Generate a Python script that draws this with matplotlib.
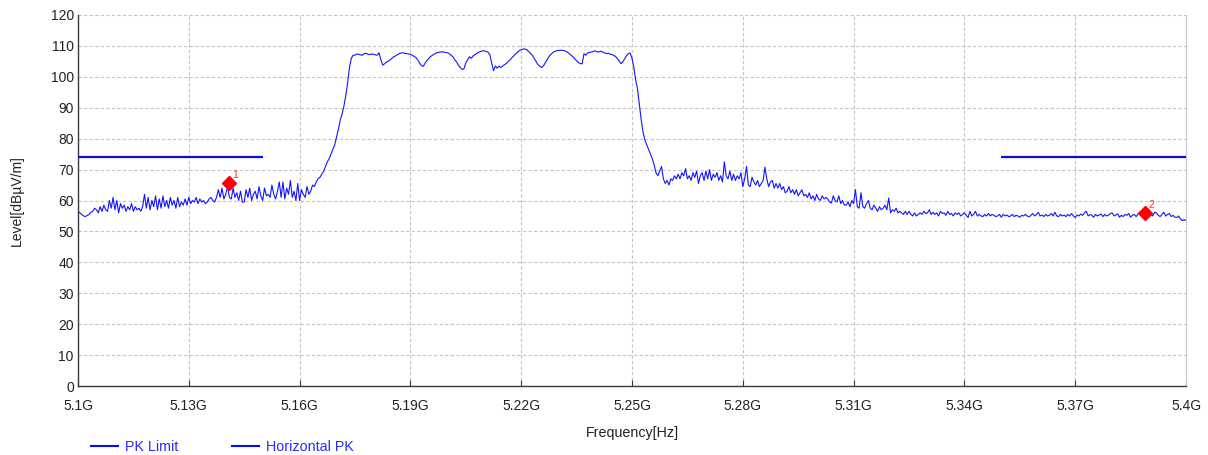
import numpy as np
import matplotlib
matplotlib.use("Agg")
import matplotlib.pyplot as plt
from matplotlib.lines import Line2D

# ---------------- data ----------------
f_start_ghz = 5.100
f_stop_ghz = 5.400
# Horizontal PK trace, one reading every 0.5 MHz from 5100 to 5400 MHz
level_below_band = [
    56.5, 56, 55.5, 55, 54.8, 55.2, 55.5, 56.2, 56.5, 57.5,
    57, 56, 58, 56.5, 58.5, 57, 56.5, 60, 57.5, 61,
    57, 60, 56, 59, 57.5, 58.5, 56.5, 58, 57, 59,
    56.5, 58, 57, 57.5, 56.5, 58, 62, 57.5, 61, 57,
    60, 58, 61.5, 57, 60.5, 57.5, 61.5, 58, 60, 57.5,
    61, 58.5, 60, 57.5, 61, 58, 59.5, 58.5, 60.5, 58.5,
    61, 59, 60, 59.5, 61, 59, 60.5, 59.5, 60, 59,
    59.5, 60.5, 61, 60, 59.5, 61, 63.5, 61, 64, 60.5,
    62, 64.5, 61, 60.5, 64, 61, 62.5, 60, 63, 59.5,
    59.5, 63.5, 61, 64, 60, 62, 63, 60.5, 64.5, 61.5,
    60, 64, 61.5, 62, 61, 65, 62, 60.5, 63, 66,
    61, 66, 60.5, 64, 62, 66.5, 61, 63, 60, 65.5,
    60, 63.5, 62, 61, 64.5, 62, 63, 65, 64.5, 66,
    67, 67.5,
]
level_rise = [
    68.5, 69.5, 71, 72.5, 73.5, 75, 76.5, 78, 80.5, 83,
    86, 88, 90.5, 94, 98, 103, 106, 107,
]
level_in_band = [
    107, 107.4, 107.3, 107.1, 107, 107.5, 107.6, 107.3, 107.2, 107.4,
    107.3, 107.1, 107.0, 107.8, 105.5, 103.8, 104.2, 104.8, 105, 105.5,
    106, 106.5, 106.8, 107.2, 107.5, 107.7, 107.8, 107.6, 107.5, 107.4,
    107.3, 107, 106.6, 106.2, 105.5, 104.5, 103.6, 103.4, 104.5, 105.3,
    106, 106.6, 107, 107.4, 107.7, 107.9, 108, 108.1, 108, 107.9,
    107.8, 107.5, 107, 106.5, 105.5, 104.8, 103.8, 103, 102.4, 102.6,
    104.5, 105.5, 106.5, 106, 106.8, 107.2, 107.6, 108, 108.2, 108.4,
    108.4, 108.2, 108, 107.2, 104.5, 102, 103.5, 102.8, 103.5, 103,
    103.5, 104, 104.3, 105, 105.5, 106.2, 106.8, 107.4, 108, 108.5,
    108.8, 109, 109, 108.8, 108.2, 107.6, 107, 106, 105, 104,
    103.5, 103, 103.5, 104.5, 105.5, 106.5, 107.2, 107.8, 108.2, 108.4,
    108.5, 108.6, 108.6, 108.5, 108.3, 108, 107.5, 107, 106.5, 105.8,
    105.2, 104.6, 104.3, 104.2, 107.5, 107, 107.7, 107.9, 108, 108.2,
    108.4, 108.1, 108, 108.3, 108, 107.8, 107.5, 107.6, 107.4, 107.2,
    107, 106.6, 106, 105.2, 104.3, 104.8, 105.8, 106.8, 107.5, 107.7,
]
level_fall = [
    106, 103, 99, 96, 91, 86, 82, 79.5, 78, 76.5,
    75, 73.5, 71.5, 69, 68, 69.5,
]
level_above_band = [
    71, 67, 65.5, 66.5, 65, 67, 66.5, 68, 67, 68.5,
    67, 69, 68, 70.3, 67, 68, 66.5, 69, 67.5, 69.5,
    65.5, 68, 69, 66.5, 69.5, 67, 70, 66.5, 68.5, 67.5,
    69, 66.5, 68, 66, 72.5, 68, 67, 69.5, 66.5, 68.5,
    66.5, 68, 67, 69, 64.5, 67, 71, 65, 64.5, 67.5,
    66, 65, 66.5, 64.5, 65.5, 66.5, 70.8, 67, 64.5, 66,
    66.5, 64, 65.5, 64, 65.5, 63.5, 64.5, 62.5, 63, 64.5,
    62.5, 63.5, 62, 63.5, 61.5, 62.5, 63.5, 61.5, 62, 61,
    62.5, 60.5, 61.5, 60, 62, 60.5, 60, 61.5, 60.5, 61,
    60.5, 59.5, 59.2, 61.5, 60, 59.5, 61.5, 59, 60, 58.5,
    58.5, 59.5, 58, 60, 59, 63.5, 58, 57.5, 62.5, 58,
    57.5, 59, 60, 57.5, 57, 58.5, 57.5, 56.5, 58, 57,
    57.5, 58.5, 57, 60.8, 56, 57, 56.5, 57.5, 56, 56.5,
    56, 55.5, 56.5, 55.5, 56.5, 55.5, 55, 56, 55, 55.5,
    56, 55.5, 56.5, 55.8, 56, 57, 55.5, 56.2, 55.5, 56,
    55, 56.5, 55.8, 56, 55.2, 56.5, 55.5, 55.8, 55, 56,
    55.5, 56, 55, 55.5, 56, 55.2, 54.5, 56.5, 55, 55.5,
    56.5, 55, 55.5, 55, 54.8, 55.5, 55, 55.8, 55, 55.5,
    55.2, 54.8, 55, 55.5, 54.6, 55.5, 55, 55.3, 54.8, 55,
    55.5, 54.8, 55.2, 55, 54.6, 55.2, 55, 55.5, 55, 54.7,
    55.2, 55.8, 55, 55.5, 56.2, 55, 55.3, 54.8, 55.5, 55,
    55.2, 55.8, 55, 56.2, 55, 54.8, 55.5, 55, 55.3, 54.8,
    55.5, 55, 55.8, 55, 54.5, 55.3, 55, 55.6, 55.2, 56,
    56.5, 55, 55.5, 55.2, 54.6, 55.5, 55, 55.3, 55.6, 54.8,
    55.5, 55, 55.2, 55.8, 56, 55, 55.3, 55.7, 54.6, 55.2,
    54.8, 55.5, 55.2, 55.8, 54.6, 55.2, 55.5, 54.8, 55.6, 56.2,
    56.5, 55.8, 55.5, 56, 57, 55.5, 55, 56.2, 56, 55.2,
    54.8, 55.5, 56.2, 55, 55.5, 55.8, 54.8, 55.2, 54.6, 54.5,
    55, 54, 53.5, 53.8, 53.5,
]
limit_low_freq = [5.100, 5.150]
limit_high_freq = [5.350, 5.400]
limit_level = [74.0, 74.0]
marker_freq = [5.1409, 5.3889]
marker_level = [65.7, 56.0]
marker_names = ["1", "2"]
x_ticks = [5.10, 5.13, 5.16, 5.19, 5.22, 5.25, 5.28, 5.31, 5.34, 5.37, 5.40]
x_tick_labels = ["5.1G", "5.13G", "5.16G", "5.19G", "5.22G", "5.25G",
                 "5.28G", "5.31G", "5.34G", "5.37G", "5.4G"]
y_ticks = [0, 10, 20, 30, 40, 50, 60, 70, 80, 90, 100, 110, 120]

# ---------------- plot ----------------
plt.rcParams['font.family'] = ['Liberation Sans', 'DejaVu Sans']

level_dbuv = (level_below_band + level_rise + level_in_band
              + level_fall + level_above_band)
freq = np.linspace(f_start_ghz, f_stop_ghz, len(level_dbuv))

W, H = 1208, 455
fig = plt.figure(figsize=(W / 100, H / 100), dpi=100)
ax = fig.add_axes([78 / W, 69 / H, 1108 / W, 371 / H])

lim_col = '#0a0aee'
trace_col = '#1414ff'
ax.plot(limit_low_freq, limit_level, color=lim_col, lw=1.6, solid_capstyle='butt', zorder=3)
ax.plot(limit_high_freq, limit_level, color=lim_col, lw=1.6, solid_capstyle='butt', zorder=3)
ax.plot(freq, level_dbuv, color=trace_col, lw=0.8, zorder=4)

ax.plot(marker_freq, marker_level, linestyle='none', marker='D', markersize=7.5,
        color='#ff0000', zorder=5)
for mf, ml, mn in zip(marker_freq, marker_level, marker_names):
    ax.annotate(mn, (mf, ml), xytext=(2.5, 3.5), textcoords='offset points',
                color='#ff3030', fontsize=7.5, zorder=6)

ax.set_xlim(f_start_ghz, f_stop_ghz)
ax.set_ylim(0, 120)
ax.set_xticks(x_ticks)
ax.set_xticklabels(x_tick_labels)
ax.set_yticks(y_ticks)

ax.grid(True, color='#c4c4c4', linestyle=(0, (3, 2)), linewidth=0.8)
ax.set_axisbelow(True)

ax.spines['top'].set_visible(False)
ax.spines['right'].set_color('#c8c8c8')
ax.spines['left'].set_color('#3a3a3a')
ax.spines['bottom'].set_color('#3a3a3a')
ax.spines['left'].set_linewidth(1.0)
ax.spines['bottom'].set_linewidth(1.0)

ax.tick_params(axis='x', direction='in', length=4, width=0.8, color='#3a3a3a',
               labelsize=10, labelcolor='#222222', pad=9.5)
ax.tick_params(axis='y', length=0, labelsize=10, labelcolor='#222222', pad=3)

ax.set_xlabel('Frequency[Hz]', fontsize=10.3, color='#222222', labelpad=9)
ax.set_ylabel('Level[dBµV/m]', fontsize=10, color='#222222', labelpad=19)

handles = [Line2D([], [], color=lim_col, lw=1.5),
           Line2D([], [], color=lim_col, lw=1.5)]
leg = fig.legend(handles, ['PK Limit', 'Horizontal PK'], loc='center left',
                 bbox_to_anchor=(91 / W, 1 - 447 / H), ncol=2, frameon=False,
                 fontsize=10.3, handlelength=1.9, handletextpad=0.5,
                 columnspacing=3.7, borderpad=0, borderaxespad=0)
for t in leg.get_texts():
    t.set_color('#2a2aff')

fig.savefig('out.png', dpi=100)
